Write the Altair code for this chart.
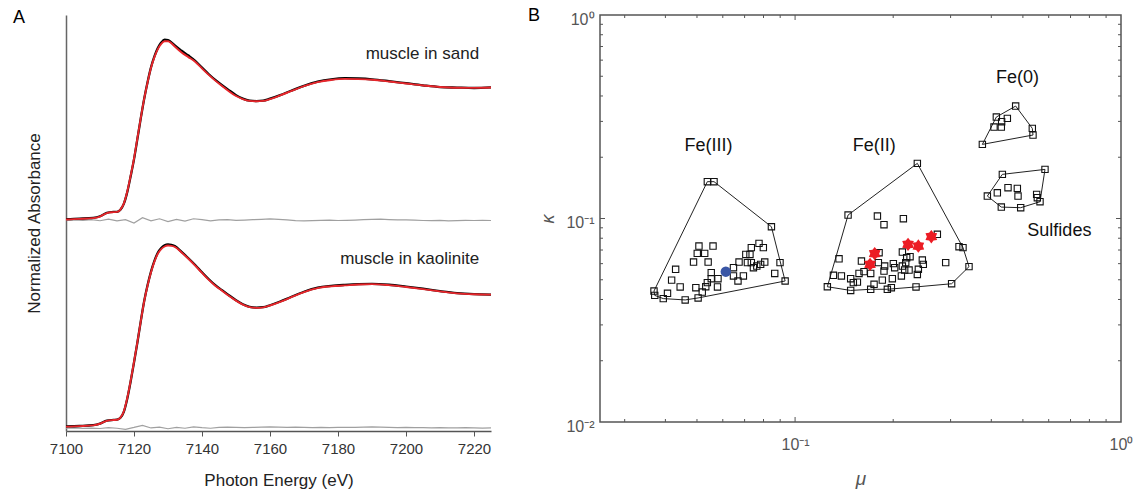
import altair as alt
import pandas as pd

FONT = "Liberation Sans"

# ---------------- Panel A: Fe K-edge XANES ----------------
energy = [7100, 7104, 7108, 7110, 7112, 7114, 7115, 7116, 7117, 7118,
          7119, 7120, 7121, 7122, 7123, 7124, 7125, 7126, 7127, 7128, 7129, 7130, 7131, 7132,
          7134, 7136, 7138, 7140, 7142, 7144, 7146, 7148, 7150, 7152, 7154, 7156, 7158, 7160,
          7163, 7166, 7170, 7174, 7178, 7182, 7186, 7190,
          7195, 7200, 7205, 7210, 7215, 7220, 7225]

sand_fit = [0.000, 0.004, 0.010, 0.022, 0.048, 0.055, 0.057, 0.075, 0.120, 0.210,
            0.330, 0.460, 0.615, 0.770, 0.915, 1.040, 1.150, 1.230, 1.290, 1.330, 1.350, 1.350, 1.335, 1.310,
            1.265, 1.230, 1.195, 1.145, 1.095, 1.050, 1.010, 0.970, 0.935, 0.912, 0.898, 0.895, 0.898, 0.912,
            0.940, 0.970, 1.010, 1.040, 1.057, 1.065, 1.063, 1.058,
            1.045, 1.030, 1.015, 1.004, 0.998, 0.997, 1.000]
sand_data = [0.002, 0.006, 0.012, 0.024, 0.050, 0.057, 0.058, 0.074, 0.118, 0.205,
             0.325, 0.455, 0.610, 0.768, 0.915, 1.042, 1.152, 1.235, 1.298, 1.340, 1.362, 1.358, 1.342, 1.318,
             1.278, 1.242, 1.202, 1.150, 1.100, 1.055, 1.015, 0.978, 0.942, 0.915, 0.900, 0.897, 0.900, 0.915,
             0.942, 0.973, 1.012, 1.044, 1.062, 1.070, 1.068, 1.062,
             1.048, 1.032, 1.016, 1.003, 0.999, 0.996, 1.001]
kaol_fit = [0.000, 0.004, 0.010, 0.022, 0.044, 0.050, 0.052, 0.068, 0.115, 0.215,
            0.345, 0.490, 0.640, 0.800, 0.950, 1.070, 1.170, 1.250, 1.310, 1.345, 1.365, 1.372, 1.370, 1.362,
            1.320, 1.272, 1.220, 1.165, 1.112, 1.066, 1.028, 0.990, 0.955, 0.925, 0.906, 0.900, 0.904, 0.918,
            0.945, 0.978, 1.020, 1.050, 1.063, 1.070, 1.077, 1.080,
            1.072, 1.058, 1.042, 1.025, 1.010, 1.003, 1.000]
kaol_data = [0.002, 0.005, 0.011, 0.023, 0.046, 0.051, 0.053, 0.067, 0.112, 0.210,
             0.340, 0.486, 0.638, 0.800, 0.952, 1.073, 1.175, 1.256, 1.318, 1.354, 1.374, 1.380, 1.378, 1.368,
             1.324, 1.276, 1.225, 1.170, 1.117, 1.070, 1.032, 0.994, 0.958, 0.928, 0.908, 0.902, 0.905, 0.920,
             0.948, 0.980, 1.022, 1.053, 1.066, 1.074, 1.080, 1.082,
             1.075, 1.061, 1.045, 1.027, 1.012, 1.004, 1.001]

res_energy = [7100, 7102.5, 7105, 7107.5, 7110, 7112.5, 7115, 7117.5, 7120, 7122.5,
              7125, 7127.5, 7130, 7132.5, 7135, 7137.5, 7140, 7142.5, 7145, 7147.5,
              7150, 7152.5, 7155, 7157.5, 7160, 7162.5, 7165, 7167.5, 7170, 7172.5,
              7175, 7177.5, 7180, 7182.5, 7185, 7187.5, 7190, 7192.5, 7195, 7197.5,
              7200, 7202.5, 7205, 7207.5, 7210, 7212.5, 7215, 7217.5, 7220, 7222.5, 7225]
sand_res = [0.000, 0.002, -0.003, 0.004, -0.005, 0.008, -0.006, 0.004, -0.022, 0.018,
            -0.006, 0.010, -0.012, 0.006, -0.008, 0.010, 0.004, -0.006, 0.002, 0.004,
            -0.002, 0.000, 0.003, 0.006, 0.010, 0.006, 0.002, -0.004, -0.006, -0.004,
            -0.002, 0.000, -0.003, -0.002, 0.000, 0.003, 0.006, 0.007, 0.004, 0.002,
            0.001, 0.000, -0.003, -0.004, -0.002, -0.006, -0.004, -0.002, -0.003, -0.002, -0.003]
kaol_res = [-0.012, -0.010, -0.013, -0.011, -0.014, -0.008, -0.012, -0.020, -0.006, 0.010,
            -0.010, -0.004, -0.016, -0.006, -0.012, -0.002, -0.008, -0.012, -0.006, -0.004,
            -0.006, -0.008, -0.006, -0.004, -0.002, -0.004, -0.006, -0.004, -0.006, -0.008,
            -0.006, -0.008, -0.006, -0.005, -0.006, -0.004, -0.002, -0.004, -0.006, -0.008,
            -0.006, -0.007, -0.008, -0.010, -0.008, -0.009, -0.010, -0.008, -0.010, -0.011, -0.010]

sand_offset = 1.57
sand_res_offset = 1.565

sample_names = ["muscle in sand", "muscle in kaolinite"]
sample_label_E = [7221.5, 7221.5]
sample_label_v = [2.82, 1.268]

rows = []
for e, f, d in zip(energy, sand_fit, sand_data):
    rows.append({"E": e, "v": d + sand_offset, "kind": "data", "sample": "sand"})
    rows.append({"E": e, "v": f + sand_offset, "kind": "fit", "sample": "sand"})
for e, f, d in zip(energy, kaol_fit, kaol_data):
    rows.append({"E": e, "v": d, "kind": "data", "sample": "kaolinite"})
    rows.append({"E": e, "v": f, "kind": "fit", "sample": "kaolinite"})
for e, r in zip(res_energy, sand_res):
    rows.append({"E": e, "v": r + sand_res_offset, "kind": "res", "sample": "sand"})
for e, r in zip(res_energy, kaol_res):
    rows.append({"E": e, "v": r, "kind": "res", "sample": "kaolinite"})
spec = pd.DataFrame(rows)
labels_a = pd.DataFrame({"E": sample_label_E, "v": sample_label_v, "t": sample_names})

xA = alt.X("E:Q",
           scale=alt.Scale(domain=[7100, 7225], nice=False, zero=False),
           axis=alt.Axis(values=[7100, 7120, 7140, 7160, 7180, 7200, 7220], format="d",
                         labelFlush=False,
                         title="Photon Energy (eV)", titleFontSize=17, titleFontWeight="normal",
                         titleColor="#222", titlePadding=16, labelFontSize=15, labelColor="#333",
                         labelPadding=5, tickSize=5, tickColor="#555", domainColor="#555",
                         domainWidth=1.5, grid=False))
yA = alt.Y("v:Q",
           scale=alt.Scale(domain=[-0.033, 3.119], nice=False, zero=False),
           axis=alt.Axis(labels=False, ticks=False, domainColor="#666", domainWidth=1.5,
                         title="Normalized Absorbance", titleFontSize=17, titleFontWeight="normal",
                         titleColor="#222", titlePadding=23, grid=False))

base_a = alt.Chart(spec)
res_layer = base_a.transform_filter(alt.datum.kind == "res").mark_line(
    color="#a0a0a0", strokeWidth=1.2).encode(x=xA, y=yA, detail="sample:N")
data_layer = base_a.transform_filter(alt.datum.kind == "data").mark_line(
    color="#000000", strokeWidth=2.3, interpolate="monotone").encode(x=xA, y=yA, detail="sample:N")
fit_layer = base_a.transform_filter(alt.datum.kind == "fit").mark_line(
    color="#e8262b", strokeWidth=1.9, interpolate="monotone").encode(x=xA, y=yA, detail="sample:N")
text_a = alt.Chart(labels_a).mark_text(
    align="right", baseline="middle", fontSize=17, color="#222", font=FONT).encode(
    x=xA, y=yA, text="t:N")
tag_a = alt.Chart(pd.DataFrame({"t": ["A"]})).mark_text(
    fontSize=18, color="#000", font=FONT, align="center", baseline="middle").encode(
    x=alt.value(-47), y=alt.value(3), text="t:N")

panel_a = alt.layer(res_layer, data_layer, fit_layer, text_a, tag_a).properties(
    width=425, height=416)

# ---------------- Panel B: kappa vs mu ----------------
fe3_mu = [0.0538, 0.0564, 0.0846, 0.0507, 0.0560, 0.0501, 0.0528, 0.0488, 0.0541, 0.0430,
          0.0418, 0.0444, 0.0369, 0.0371, 0.0394, 0.0406, 0.0460, 0.0496, 0.0504, 0.0519,
          0.0532, 0.0538, 0.0553, 0.0553, 0.0580, 0.0578, 0.0647, 0.0647, 0.0673, 0.0668,
          0.0694, 0.0706, 0.0727, 0.0734, 0.0775, 0.0799, 0.0714, 0.0734, 0.0745, 0.0763,
          0.0784, 0.0807, 0.0899, 0.0866, 0.0932]
fe3_kappa = [0.1517, 0.1517, 0.0911, 0.0732, 0.0732, 0.0674, 0.0674, 0.0611, 0.0611, 0.0563,
             0.0498, 0.0461, 0.0440, 0.0419, 0.0404, 0.0429, 0.0398, 0.0457, 0.0407, 0.0435,
             0.0462, 0.0484, 0.0542, 0.0506, 0.0506, 0.0461, 0.0573, 0.0522, 0.0611, 0.0493,
             0.0522, 0.0666, 0.0666, 0.0719, 0.0755, 0.0719, 0.0607, 0.0607, 0.0573, 0.0584,
             0.0595, 0.0611, 0.0607, 0.0537, 0.0493]
fe3_hull = [0, 1, 2, 44, 18, 16, 14, 13, 12, 0]

fe2_mu = [0.2372, 0.1454, 0.1789, 0.2149, 0.1874, 0.2732, 0.3184, 0.3275, 0.3417, 0.3022,
          0.1364, 0.1256, 0.1311, 0.1387, 0.1481, 0.1509, 0.1553, 0.1598, 0.1627, 0.1571,
          0.1706, 0.1810, 0.1801, 0.1883, 0.2002, 0.2021, 0.1874, 0.1706, 0.1852, 0.1988,
          0.1919, 0.1974, 0.2134, 0.2200, 0.2253, 0.2185, 0.2134, 0.2169, 0.2119, 0.2237,
          0.2389, 0.2457, 0.2474, 0.2372, 0.2350, 0.2898, 0.1481, 0.1747]
fe2_kappa = [0.1866, 0.1040, 0.1028, 0.0998, 0.0932, 0.0836, 0.0727, 0.0719, 0.0580, 0.0478,
             0.0634, 0.0462, 0.0526, 0.0522, 0.0506, 0.0484, 0.0487, 0.0618, 0.0548, 0.0537,
             0.0537, 0.0679, 0.0607, 0.0584, 0.0600, 0.0573, 0.0552, 0.0449, 0.0498, 0.0506,
             0.0449, 0.0457, 0.0684, 0.0642, 0.0649, 0.0607, 0.0584, 0.0558, 0.0522, 0.0558,
             0.0563, 0.0625, 0.0595, 0.0531, 0.0461, 0.0607, 0.0443, 0.0475]
fe2_hull = [0, 7, 8, 9, 44, 30, 27, 46, 11, 1, 0]

fe0_mu = [0.4751, 0.4145, 0.4303, 0.4480, 0.4077, 0.4293, 0.5344, 0.5370, 0.3755]
fe0_kappa = [0.3569, 0.3152, 0.2990, 0.3105, 0.2815, 0.2815, 0.2773, 0.2571, 0.2313]
fe0_hull = [0, 6, 7, 8, 1, 0]

sulf_mu = [0.4325, 0.5845, 0.3890, 0.4174, 0.4501, 0.4808, 0.4831, 0.5511, 0.5537, 0.5643, 0.4293, 0.4923]
sulf_kappa = [0.1648, 0.1743, 0.1289, 0.1338, 0.1417, 0.1406, 0.1289, 0.1314, 0.1265, 0.1209, 0.1138, 0.1130]
sulf_hull = [0, 1, 9, 11, 10, 2, 0]

muscle_sand_mu = [0.0613]
muscle_sand_kappa = [0.0548]

muscle_kaol_mu = [0.1755, 0.1698, 0.2221, 0.2389, 0.2618]
muscle_kaol_kappa = [0.0672, 0.0595, 0.0746, 0.0732, 0.0814]

group_names = ["Fe(III)", "Fe(II)", "Fe(0)", "Sulfides"]
group_label_mu = [0.0542, 0.175, 0.481, 0.647]
group_label_kappa = [0.228, 0.228, 0.492, 0.0871]

x_minor = [0.03, 0.04, 0.05, 0.06, 0.07, 0.08, 0.09, 0.2, 0.3, 0.4, 0.5, 0.6, 0.7, 0.8, 0.9]
x_major = [0.1]
y_minor = [0.02, 0.03, 0.04, 0.05, 0.06, 0.07, 0.08, 0.09, 0.2, 0.3, 0.4, 0.5, 0.6, 0.7, 0.8, 0.9]
y_major = [0.1]

ref_rows = []
hull_rows = []
for g, mus, ks, hull in [("Fe(III)", fe3_mu, fe3_kappa, fe3_hull),
                         ("Fe(II)", fe2_mu, fe2_kappa, fe2_hull),
                         ("Fe(0)", fe0_mu, fe0_kappa, fe0_hull),
                         ("Sulfides", sulf_mu, sulf_kappa, sulf_hull)]:
    for m, k in zip(mus, ks):
        ref_rows.append({"mu": m, "kappa": k, "group": g})
    for order, idx in enumerate(hull):
        hull_rows.append({"mu": mus[idx], "kappa": ks[idx], "group": g, "order": order})
refs = pd.DataFrame(ref_rows)
hulls = pd.DataFrame(hull_rows)
sand_pt = pd.DataFrame({"mu": muscle_sand_mu, "kappa": muscle_sand_kappa})
kaol_pts = pd.DataFrame({"mu": muscle_kaol_mu, "kappa": muscle_kaol_kappa})
group_lbl = pd.DataFrame({"mu": group_label_mu, "kappa": group_label_kappa, "t": group_names})

exp_expr = "datum.value < 0.05 ? '10⁻²' : (datum.value < 0.5 ? '10⁻¹' : '10⁰')"
xB = alt.X("mu:Q",
           scale=alt.Scale(type="log", domain=[0.0252, 1], nice=False),
           axis=alt.Axis(values=[0.1, 1], labelExpr=exp_expr, ticks=False, domain=False, grid=False,
                         labelFlush=False, labelFontSize=16, labelColor="#555", labelPadding=14,
                         title="μ", titleFontSize=19, titleFontStyle="italic", titleFontWeight="normal",
                         titleColor="#555", titlePadding=17))
yB = alt.Y("kappa:Q",
           scale=alt.Scale(type="log", domain=[0.01, 1], nice=False),
           axis=alt.Axis(values=[0.01, 0.1, 1], labelExpr=exp_expr, ticks=False, domain=False, grid=False,
                         labelFlush=False, labelFontSize=16, labelColor="#555", labelPadding=6,
                         labelOffset=4, labelBaseline="middle",
                         title="κ", titleFontSize=18, titleFontStyle="italic", titleFontWeight="normal",
                         titleColor="#555", titlePadding=8))

hull_layer = alt.Chart(hulls).mark_line(color="#222", strokeWidth=1).encode(
    x=xB, y=yB, order="order:Q", detail="group:N")
ref_layer = alt.Chart(refs).mark_point(shape="square", filled=False, color="#111",
                                       size=40, strokeWidth=1.1, opacity=1).encode(x=xB, y=yB)
sand_layer = alt.Chart(sand_pt).mark_point(shape="circle", filled=True, color="#3a56a5",
                                           size=110, opacity=1).encode(x=xB, y=yB)
star_path = ("M0,-1L0.33,-0.57L0.87,-0.5L0.66,0L0.87,0.5L0.33,0.57L0,1L-0.33,0.57"
             "L-0.87,0.5L-0.66,0L-0.87,-0.5L-0.33,-0.57Z")
kaol_layer = alt.Chart(kaol_pts).mark_point(shape=star_path, filled=True, color="#ec1c24",
                                            size=180, opacity=1).encode(x=xB, y=yB)
glabel_layer = alt.Chart(group_lbl).mark_text(fontSize=18, color="#111", font=FONT,
                                              align="center", baseline="middle").encode(
    x=xB, y=yB, text="t:N")

tick_color = "#555"
xmin_df = pd.DataFrame({"mu": x_minor})
xmaj_df = pd.DataFrame({"mu": x_major})
ymin_df = pd.DataFrame({"kappa": y_minor})
ymaj_df = pd.DataFrame({"kappa": y_major})
ticks = []
for df, ln in [(xmin_df, 3), (xmaj_df, 5)]:
    ticks.append(alt.Chart(df).mark_rule(color=tick_color, strokeWidth=1).encode(
        x=xB, y=alt.value(407), y2=alt.value(407 - ln)))
    ticks.append(alt.Chart(df).mark_rule(color=tick_color, strokeWidth=1).encode(
        x=xB, y=alt.value(0), y2=alt.value(ln)))
for df, ln in [(ymin_df, 3), (ymaj_df, 5)]:
    ticks.append(alt.Chart(df).mark_rule(color=tick_color, strokeWidth=1).encode(
        y=yB, x=alt.value(0), x2=alt.value(ln)))
    ticks.append(alt.Chart(df).mark_rule(color=tick_color, strokeWidth=1).encode(
        y=yB, x=alt.value(521), x2=alt.value(521 - ln)))

tag_b = alt.Chart(pd.DataFrame({"t": ["B"]})).mark_text(
    fontSize=18, color="#000", font=FONT, align="center", baseline="middle").encode(
    x=alt.value(-66), y=alt.value(1), text="t:N")

panel_b = alt.layer(hull_layer, ref_layer, *ticks, sand_layer, kaol_layer, glabel_layer, tag_b).properties(
    width=521, height=407,
    view=alt.ViewBackground(stroke="#555", strokeWidth=1.5))

chart = alt.hconcat(panel_a, panel_b, spacing=31).properties(
    padding={"left": 12, "top": 6, "right": 0, "bottom": 0},
    background="white",
).configure(font=FONT).configure_view(strokeWidth=0).configure_axis(
    labelFont=FONT, titleFont=FONT)

chart.save("out.html", embed_options={"renderer": "svg", "actions": False})
